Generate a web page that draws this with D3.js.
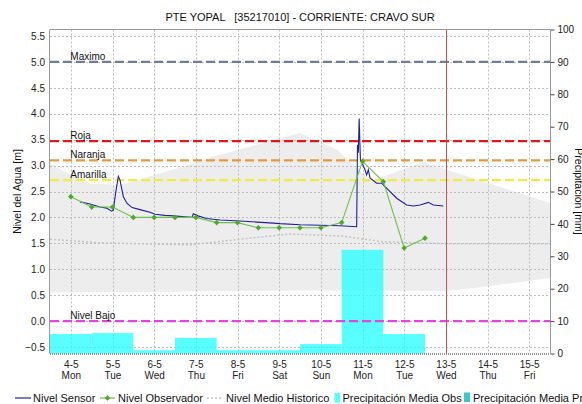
<!DOCTYPE html>
<html>
<head>
<meta charset="utf-8">
<script src="https://cdn.jsdelivr.net/npm/d3@7"></script>
<style>
  html, body { margin: 0; padding: 0; background: #fff; overflow: hidden; }
  svg { display: block; font-family: "Liberation Sans", Arial, sans-serif; }
</style>
</head>
<body>
<svg id="chart" width="582" height="404"></svg>
<script>
// Station daily axis (day of May) and labels
const tickDays = [4, 5, 6, 7, 8, 9, 10, 11, 12, 13, 14, 15];
const tickDates = ["4-5", "5-5", "6-5", "7-5", "8-5", "9-5", "10-5", "11-5", "12-5", "13-5", "14-5", "15-5"];
const tickWeekdays = ["Mon", "Tue", "Wed", "Thu", "Fri", "Sat", "Sun", "Mon", "Tue", "Wed", "Thu", "Fri"];

// Sensor water level [m]
const sensorDays = [4.22, 4.46, 4.70, 4.86, 4.98, 5.02, 5.08, 5.14, 5.18, 5.26, 5.35, 5.47, 5.66, 5.90, 6.02, 6.26, 6.46, 6.74, 6.91, 6.94, 7.05, 7.26, 7.58, 8.06, 8.47, 8.86, 9.02, 9.50, 9.98, 10.46, 10.86, 10.88, 10.90, 10.92, 10.95, 10.99, 11.06, 11.10, 11.14, 11.18, 11.34, 11.46, 11.62, 11.82, 12.06, 12.22, 12.38, 12.58, 12.70, 12.94];
const sensorLevel = [2.30, 2.26, 2.20, 2.18, 2.12, 2.14, 2.50, 2.79, 2.72, 2.40, 2.27, 2.19, 2.15, 2.10, 2.06, 2.04, 2.03, 2.01, 2.00, 2.07, 2.03, 1.98, 1.95, 1.93, 1.91, 1.89, 1.88, 1.86, 1.85, 1.84, 1.82, 3.40, 3.25, 3.91, 3.10, 3.05, 2.92, 2.82, 2.92, 2.76, 2.66, 2.66, 2.53, 2.37, 2.24, 2.22, 2.24, 2.29, 2.24, 2.22];

// Observer readings [m]
const obsDays = [4.0, 4.5, 5.0, 5.5, 6.0, 6.5, 7.0, 7.5, 8.0, 8.5, 9.0, 9.5, 10.0, 10.5, 11.0, 11.5, 12.0, 12.5];
const obsLevel = [2.40, 2.20, 2.20, 2.00, 2.00, 2.00, 2.00, 1.90, 1.90, 1.80, 1.80, 1.80, 1.80, 1.90, 3.08, 2.69, 1.41, 1.60];

// Historical mean level [m]
const meanDays = [3.5, 4.7, 6.86, 8.06, 9.26, 10.5, 11.5, 13.2, 15.5];
const meanLevel = [1.58, 1.51, 1.47, 1.58, 1.68, 1.64, 1.53, 1.49, 1.49];

// Historical envelope: upper and lower bounds [m]
const envUpperDays = [3.5, 3.85, 4.46, 5.18, 6.45, 7.41, 9.5, 10.4, 11.2, 12.45, 15.5];
const envUpper = [3.05, 2.88, 2.65, 2.63, 2.92, 3.17, 3.63, 3.30, 2.70, 3.07, 2.28];
const envLowerDays = [3.5, 9.5, 13.0, 13.9, 15.5];
const envLower = [0.55, 0.59, 0.58, 0.66, 0.83];

// Observed daily mean precipitation [mm]
const precipDays = [4, 5, 6, 7, 8, 9, 10, 11, 12];
const precipObs = [6.0, 6.3, 1.0, 4.8, 1.0, 1.0, 2.9, 32, 6.0];

// Alert thresholds [m]
const thresholdNames = ["Maximo", "Roja", "Naranja", "Amarilla", "Nivel Bajo"];
const thresholdValues = [5.0, 3.47, 3.10, 2.72, 0.0];
const thresholdColors = ["#6d7d9c", "#e8141c", "#e39b3c", "#f2ec3c", "#e444e4"];

const currentDay = 13;

const svg = d3.select("#chart");
const pLeft = 50, pRight = 550, pTop = 29.5, pBottom = 353.5;

const x = d3.scaleLinear().domain([3.5, 15.5]).range([pLeft, pRight]);
const yL = d3.scaleLinear().domain([-0.625, 5.625]).range([pBottom, pTop]);
const yR = d3.scaleLinear().domain([0, 100]).range([pBottom, pTop]);

const defs = svg.append("defs");
defs.append("clipPath").attr("id", "clip").append("rect")
  .attr("x", pLeft).attr("y", pTop).attr("width", pRight - pLeft).attr("height", pBottom - pTop);
const plot = svg.append("g");

// Historical envelope polygon
const envPts = envUpperDays.map((d, i) => [d, envUpper[i]])
  .concat(envLowerDays.map((d, i) => [d, envLower[i]]).reverse());
plot.append("path")
  .attr("clip-path", "url(#clip)")
  .attr("d", d3.line().x(p => x(p[0])).y(p => yL(p[1])).curve(d3.curveLinearClosed)(envPts))
  .attr("fill", "#ededed");

// Grid
const yGrid = d3.range(-0.5, 5.51, 0.5);
plot.append("g").selectAll("line").data(yGrid).join("line")
  .attr("x1", pLeft).attr("x2", pRight)
  .attr("y1", d => Math.round(yL(d)) + 0.5).attr("y2", d => Math.round(yL(d)) + 0.5)
  .attr("stroke", "#bdbdbd").attr("stroke-dasharray", "2,2");
plot.append("g").selectAll("line").data(tickDays).join("line")
  .attr("y1", pTop).attr("y2", pBottom)
  .attr("x1", d => Math.round(x(d)) + 0.5).attr("x2", d => Math.round(x(d)) + 0.5)
  .attr("stroke", "#bdbdbd").attr("stroke-dasharray", "2,2");

// Precipitation bars
plot.append("g").selectAll("rect").data(precipDays).join("rect")
  .attr("x", d => x(d - 0.5))
  .attr("width", d => x(d + 0.5) - x(d - 0.5))
  .attr("y", (d, i) => yR(precipObs[i]))
  .attr("height", (d, i) => yR(0) - yR(precipObs[i]))
  .attr("fill", "#22ffff").attr("fill-opacity", 0.75);

// Historical mean line
plot.append("path")
  .attr("d", d3.line().x((d, i) => x(meanDays[i])).y(d => yL(d))(meanLevel))
  .attr("fill", "none").attr("stroke", "#c4c4c4").attr("stroke-width", 1.5)
  .attr("stroke-dasharray", "2,2");

// Threshold lines and labels
const th = plot.append("g");
thresholdValues.forEach((v, i) => {
  th.append("line")
    .attr("x1", pLeft).attr("x2", pRight)
    .attr("y1", yL(v)).attr("y2", yL(v))
    .attr("stroke", thresholdColors[i]).attr("stroke-width", 2.2)
    .attr("stroke-dasharray", "9,4");
  th.append("text")
    .attr("x", x(4) - 0.5).attr("y", yL(v) - 2)
    .attr("font-size", 10).attr("fill", "#111")
    .text(thresholdNames[i]);
});

// Current-day marker
plot.append("line")
  .attr("x1", Math.round(x(currentDay)) + 0.5).attr("x2", Math.round(x(currentDay)) + 0.5)
  .attr("y1", pTop).attr("y2", pBottom)
  .attr("stroke", "#d64b4b").attr("stroke-width", 1);

// Sensor level
plot.append("path")
  .attr("d", d3.line().x((d, i) => x(sensorDays[i])).y(d => yL(d))(sensorLevel))
  .attr("fill", "none").attr("stroke", "#1f1f9e").attr("stroke-width", 1.1);

// Observer level with markers
plot.append("path")
  .attr("d", d3.line().x((d, i) => x(obsDays[i])).y(d => yL(d))(obsLevel))
  .attr("fill", "none").attr("stroke", "#6fbf4b").attr("stroke-width", 1.1);
plot.append("g").selectAll("rect").data(obsLevel).join("rect")
  .attr("x", (d, i) => x(obsDays[i]) - 2).attr("y", d => yL(d) - 2)
  .attr("width", 4).attr("height", 4)
  .attr("transform", (d, i) => `rotate(45, ${x(obsDays[i])}, ${yL(d)})`)
  .attr("fill", "#4fa92c");

// Frame
svg.append("line").attr("x1", pLeft).attr("x2", pRight).attr("y1", pTop).attr("y2", pTop)
  .attr("stroke", "#9a9a9a");
svg.append("line").attr("x1", pLeft - 0.5).attr("x2", pLeft - 0.5).attr("y1", pTop).attr("y2", pBottom)
  .attr("stroke", "#9a9a9a");
svg.append("line").attr("x1", pRight + 0.5).attr("x2", pRight + 0.5).attr("y1", pTop).attr("y2", pBottom)
  .attr("stroke", "#9a9a9a");
svg.append("line").attr("x1", pLeft).attr("x2", pRight).attr("y1", pBottom + 0.5).attr("y2", pBottom + 0.5)
  .attr("stroke", "#333").attr("stroke-dasharray", "1,1");

// Left axis
const axL = svg.append("g").attr("transform", `translate(${pLeft},0)`)
  .call(d3.axisLeft(yL).tickValues(yGrid).tickFormat(d3.format(".1f")).tickSize(0).tickPadding(5));
axL.select(".domain").remove();
axL.selectAll("text").attr("font-size", 10).attr("fill", "#222").attr("font-family", null);

// Right axis
const axR = svg.append("g").attr("transform", `translate(${pRight + 0.5},0)`)
  .call(d3.axisRight(yR).tickValues(d3.range(0, 101, 10)).tickSize(4).tickPadding(3));
axR.select(".domain").remove();
axR.selectAll("line").attr("stroke", "#444");
axR.selectAll("text").attr("font-size", 10).attr("fill", "#222").attr("font-family", null);

// Bottom axis with two-line labels
const axB = svg.append("g").attr("transform", `translate(0,${pBottom})`)
  .call(d3.axisBottom(x).tickValues(tickDays).tickSize(0).tickFormat(""));
axB.select(".domain").remove();
axB.selectAll(".tick").each(function (d, i) {
  const t = d3.select(this).append("text")
    .attr("text-anchor", "middle").attr("font-size", 10).attr("fill", "#222");
  t.append("tspan").attr("x", 0).attr("y", 14).text(tickDates[i]);
  t.append("tspan").attr("x", 0).attr("y", 25).text(tickWeekdays[i]);
});

// Title
svg.append("text").attr("x", 300).attr("y", 21).attr("text-anchor", "middle")
  .attr("font-size", 11).attr("fill", "#111").attr("xml:space", "preserve")
  .text("PTE YOPAL   [35217010] - CORRIENTE: CRAVO SUR");

// Axis titles
svg.append("text").attr("transform", `translate(21,${(pTop + pBottom) / 2}) rotate(-90)`)
  .attr("text-anchor", "middle").attr("font-size", 10.5).attr("fill", "#111")
  .text("Nivel del Agua [m]");
svg.append("text").attr("transform", `translate(575,${(pTop + pBottom) / 2}) rotate(90)`)
  .attr("text-anchor", "middle").attr("font-size", 10.5).attr("fill", "#111")
  .text("Precipitación [mm]");

// Legend
const lg = svg.append("g").attr("font-size", 11).attr("fill", "#111");
const ly = 398;
lg.append("line").attr("x1", 15).attr("x2", 31).attr("y1", ly).attr("y2", ly)
  .attr("stroke", "#1f1f9e").attr("stroke-width", 1.2);
lg.append("text").attr("x", 33).attr("y", ly + 4).text("Nivel Sensor");
lg.append("line").attr("x1", 100).attr("x2", 115).attr("y1", ly).attr("y2", ly)
  .attr("stroke", "#6fbf4b").attr("stroke-width", 1.2);
lg.append("rect").attr("x", 105.5).attr("y", ly - 2).attr("width", 4).attr("height", 4)
  .attr("transform", `rotate(45, 107.5, ${ly})`).attr("fill", "#4fa92c");
lg.append("text").attr("x", 118).attr("y", ly + 4).text("Nivel Observador");
lg.append("line").attr("x1", 207).attr("x2", 221).attr("y1", ly).attr("y2", ly)
  .attr("stroke", "#c4c4c4").attr("stroke-width", 1.5).attr("stroke-dasharray", "2,2");
lg.append("text").attr("x", 226).attr("y", ly + 4).text("Nivel Medio Historico");
lg.append("rect").attr("x", 334.5).attr("y", 393).attr("width", 5.5).attr("height", 9.5)
  .attr("fill", "#55ffff");
lg.append("text").attr("x", 342.5).attr("y", ly + 4).text("Precipitación Media Obs");
lg.append("rect").attr("x", 464).attr("y", 392.5).attr("width", 6).attr("height", 9.5)
  .attr("fill", "#3cc8c8");
lg.append("text").attr("x", 473).attr("y", ly + 4).text("Precipitación Media Pronosticada");
</script>
</body>
</html>
